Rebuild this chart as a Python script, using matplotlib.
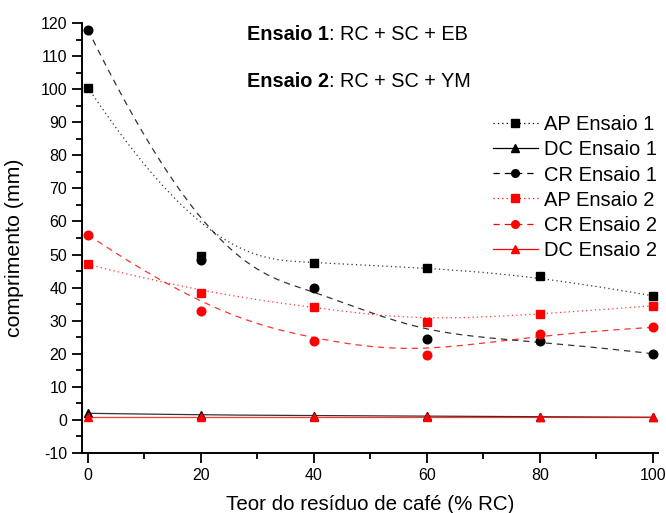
import numpy as np
import matplotlib.pyplot as plt
from matplotlib.ticker import MultipleLocator

plt.rcParams['font.family'] = ['Liberation Sans', 'DejaVu Sans']
plt.rcParams['axes.unicode_minus'] = False

# teor de residuo de cafe (% RC)
teor = [0, 20, 40, 60, 80, 100]

# comprimentos (mm)
ap_ensaio1 = [100.5, 49.5, 47.5, 46.0, 43.5, 37.5]
dc_ensaio1 = [2.0, 1.5, 1.3, 1.2, 1.0, 0.8]
cr_ensaio1 = [118.0, 48.5, 40.0, 24.5, 24.0, 20.0]
ap_ensaio2 = [47.0, 38.5, 34.0, 29.5, 32.0, 34.5]
cr_ensaio2 = [56.0, 33.0, 24.0, 19.5, 26.0, 28.0]
dc_ensaio2 = [0.8, 0.8, 0.8, 0.8, 0.8, 0.8]


def bspline(xs, ys, npts=200):
    """curva B-spline cubica (pontos de controle = dados), como no Origin"""
    P = np.column_stack([xs, ys]).astype(float)
    n = len(P)
    k = 3
    knots = np.concatenate([np.zeros(k), np.linspace(0, 1, n - k + 1), np.ones(k)])
    out = []
    for t in np.linspace(0, 1, npts):
        if t >= 1:
            out.append(P[-1])
            continue
        j = np.searchsorted(knots, t, side='right') - 1
        d = [P[j - k + i].copy() for i in range(k + 1)]
        for r in range(1, k + 1):
            for i in range(k, r - 1, -1):
                idx = i + j - k
                a = (t - knots[idx]) / (knots[idx + k + 1 - r] - knots[idx])
                d[i] = (1 - a) * d[i - 1] + a * d[i]
        out.append(d[k])
    out = np.array(out)
    return out[:, 0], out[:, 1]


fig = plt.figure(figsize=(6.66, 5.13), dpi=100)
ax = fig.add_axes([0.123, 0.117, 0.865, 0.838])

series = [
    ('AP Ensaio 1', ap_ensaio1, 'black', 's', (0, (1, 2.5))),
    ('DC Ensaio 1', dc_ensaio1, 'black', '^', '-'),
    ('CR Ensaio 1', cr_ensaio1, 'black', 'o', (0, (5, 4))),
    ('AP Ensaio 2', ap_ensaio2, 'red', 's', (0, (1, 2.5))),
    ('CR Ensaio 2', cr_ensaio2, 'red', 'o', (0, (5, 4))),
    ('DC Ensaio 2', dc_ensaio2, 'red', '^', '-'),
]

handles = []
for nome, vals, cor, mk, ls in series:
    ax.plot(teor, vals, linestyle='none', marker=mk, color=cor, markersize=6.2)
    bx, by = bspline(teor, vals)
    ax.plot(bx, by, linestyle=ls, color=cor, linewidth=0.9, alpha=0.8)
    h, = ax.plot([], [], linestyle=ls, color=cor, marker=mk, markersize=5.5, linewidth=0.9)
    handles.append((h, nome))

ax.legend([h for h, _ in handles], [n for _, n in handles], loc='upper right',
          bbox_to_anchor=(1.022, 0.818), frameon=False, fontsize=14.5, handlelength=2.2,
          handletextpad=0.3, labelspacing=0.3, borderpad=0.2)

ax.set_xlim(-1.06, 100.9)
ax.set_ylim(-10, 120)
ax.xaxis.set_major_locator(MultipleLocator(20))
ax.xaxis.set_minor_locator(MultipleLocator(10))
ax.yaxis.set_major_locator(MultipleLocator(10))
ax.yaxis.set_minor_locator(MultipleLocator(5))
ax.tick_params(which='major', length=7, width=1.3, labelsize=11.5)
ax.tick_params(which='minor', length=4, width=1.3)
ax.spines['top'].set_visible(False)
ax.spines['right'].set_visible(False)
ax.spines['left'].set_linewidth(1.4)
ax.spines['bottom'].set_linewidth(1.4)

ax.set_xlabel('Teor do resíduo de café (% RC)', fontsize=14.8, labelpad=9)
ax.set_ylabel('comprimento (mm)', fontsize=15.3)
ax.yaxis.set_label_coords(-0.101, 0.477)

# legenda dos ensaios
ax.text(42.6, 116.5, 'Ensaio 1', fontsize=14.3, fontweight='bold', ha='right', va='center')
ax.text(42.6, 116.5, ': RC + SC + EB', fontsize=14.3, ha='left', va='center')
ax.text(42.6, 102.2, 'Ensaio 2', fontsize=14.3, fontweight='bold', ha='right', va='center')
ax.text(42.6, 102.2, ': RC + SC + YM', fontsize=14.3, ha='left', va='center')

fig.savefig('out.png', dpi=100)
